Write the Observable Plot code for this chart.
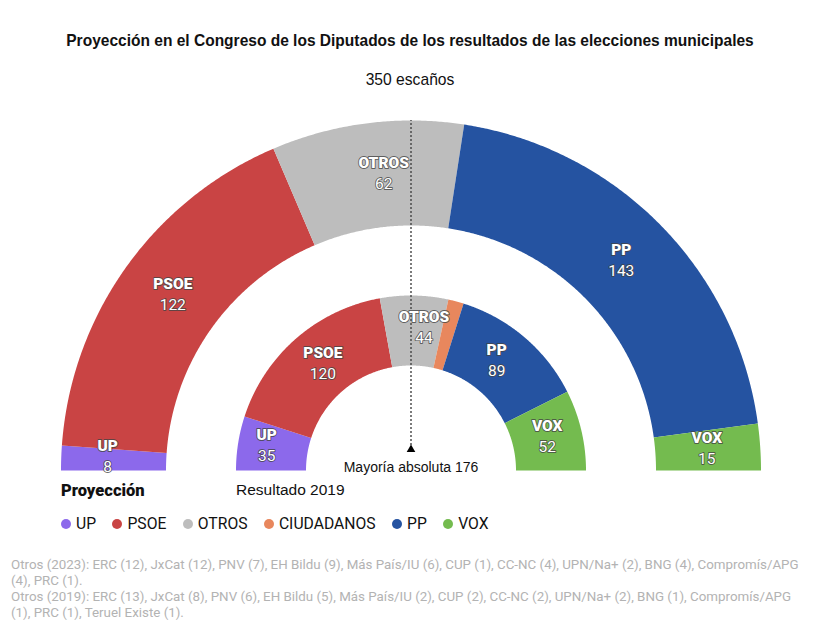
<!DOCTYPE html>
<html><head><meta charset="utf-8">
<script src="https://cdn.jsdelivr.net/npm/d3@7"></script>
<script src="https://cdn.jsdelivr.net/npm/@observablehq/plot@0.6"></script>
<style>
html,body{margin:0;padding:0;background:#fff;width:820px;overflow:hidden}
body{font-family:"Liberation Sans",sans-serif;color:#111}
#head{height:100px;position:relative;text-align:center}
#title{position:absolute;left:0;width:820px;top:31px;font:bold 17px/20px "Liberation Sans",sans-serif;transform:scaleX(.913);white-space:nowrap}
#sub{position:absolute;left:0;width:820px;top:71px;font:17px/18px "Liberation Sans",sans-serif;transform:scaleX(.92)}
#chart svg{display:block}
#legend{display:flex;position:absolute;left:61px;top:514px;font:15.7px/20px Roboto,sans-serif}
#legend .it{display:flex;align-items:center;margin-right:16.4px}
#legend .d{width:10px;height:10px;border-radius:50%;margin-right:5px}
#foot{position:absolute;left:11px;top:557px;width:795px;font:13.35px/16px Roboto,sans-serif;color:#b3b3b3}
</style></head><body>
<div id="head"><div id="title">Proyección en el Congreso de los Diputados de los resultados de las elecciones municipales</div>
<div id="sub">350 escaños</div></div>
<div id="chart"></div>
<div id="legend"></div>
<div id="foot">Otros (2023): ERC (12), JxCat (12), PNV (7), EH Bildu (9), Más País/IU (6), CUP (1), CC-NC (4), UPN/Na+ (2), BNG (4), Compromís/APG (4), PRC (1).<br>Otros (2019): ERC (13), JxCat (8), PNV (6), EH Bildu (5), Más País/IU (2), CUP (2), CC-NC (2), UPN/Na+ (2), BNG (1), Compromís/APG (1), PRC (1), Teruel Existe (1).</div>
<script>
const parties = ["UP","PSOE","OTROS","CIUDADANOS","PP","VOX"];
const colors = ["#8c69eb","#c94444","#bdbdbd","#e8875d","#2553a1","#74bb4f"];
const seatsProjection = [8,122,62,0,143,15];
const seats2019 = [35,120,44,10,89,52];
const total = 350, majority = 176;
// radial extents of the two rings (seat-chart units = px)
const ringOuter = {r0:245, r1:350};
const ringInner = {r0:105, r1:175};
// label offsets away from the wedge centre
const nudgeOuter = [[-6,3],[4,3],[10,2],[0,0],[-2,2],[-1,2]];
const nudgeInner = [[-6,3],[4,2],[10.5,2.5],[0,0],[-5,3],[0,2]];

function ring(seats, {r0, r1}, nudge){
  const wedges = [], labels = [];
  let cum = 0;
  seats.forEach((s,i)=>{
    if(s>0){
      const a0 = cum/total*Math.PI, a1 = (cum+s)/total*Math.PI;
      const n = Math.max(2, Math.ceil((a1-a0)*180));
      const arc = r => d3.range(n+1).map(k=>{
        const a = a0+(a1-a0)*k/n;
        return {party:parties[i], x:-r*Math.cos(a), y:r*Math.sin(a)};
      });
      wedges.push(...arc(r1), ...arc(r0).reverse());
      const am=(a0+a1)/2, rm=(r0+r1)/2;
      if(parties[i]!=="CIUDADANOS") labels.push({party:parties[i], seats:s,
        x:-rm*Math.cos(am)+nudge[i][0], y:rm*Math.sin(am)+nudge[i][1]});
    }
    cum+=s;
  });
  return {wedges,labels};
}
const A = ring(seatsProjection, ringOuter, nudgeOuter);
const B = ring(seats2019, ringInner, nudgeInner);
const labels = [...A.labels, ...B.labels];
const tf = 'Roboto,sans-serif';
const halo = {stroke:"#444", strokeWidth:1.8, strokeOpacity:.8, fill:"#fff", fontFamily:tf, fontSize:15.5, textAnchor:"middle", lineAnchor:"middle"};

const plot = Plot.plot({
  width:820, height:400, margin:0,
  x:{domain:[-410.5,409.5], range:[0,820]},
  y:{domain:[370,-30], range:[0,400]},
  color:{domain:parties, range:colors},
  axis:null,
  style:{background:"#fff"},
  marks:[
    Plot.line(A.wedges,{x:"x",y:"y",z:"party",fill:"party",stroke:"none",curve:"linear"}),
    Plot.line(B.wedges,{x:"x",y:"y",z:"party",fill:"party",stroke:"none",curve:"linear"}),
    Plot.ruleX([0],{y1:25,y2:350,stroke:"#444",strokeWidth:1.4,strokeDasharray:"2,2"}),
    Plot.dot([0],{x:d=>d,y:()=>21,symbol:"triangle",r:3.2,fill:"#000",stroke:"none"}),
    Plot.text(labels,{x:"x",y:"y",text:"party",dy:-10.5,fontWeight:900,...halo}),
    Plot.text(labels,{x:"x",y:"y",text:d=>String(d.seats),dy:10.5,...halo}),
    Plot.text([`Mayoría absoluta ${majority}`],{x:()=>0,y:()=>3,text:d=>d,fill:"#111",fontFamily:"Liberation Sans",fontSize:14,letterSpacing:.5,textAnchor:"middle",lineAnchor:"middle"}),
    Plot.text(["Proyección"],{x:()=>-350,y:()=>-20,text:d=>d,fill:"#111",fontWeight:900,fontFamily:tf,fontSize:16.5,textAnchor:"start",lineAnchor:"middle"}),
    Plot.text(["Resultado 2019"],{x:()=>-175,y:()=>-20,text:d=>d,fill:"#111",fontFamily:"Liberation Sans",fontSize:15.5,textAnchor:"start",lineAnchor:"middle"})
  ]
});
document.getElementById("chart").append(plot);
const lg=document.getElementById("legend");
parties.forEach((p,i)=>{
  const it=document.createElement("div");it.className="it";
  const d=document.createElement("span");d.className="d";d.style.background=colors[i];
  const t=document.createElement("span");t.textContent=p;
  it.append(d,t);lg.append(it);
});
</script>
</body></html>
